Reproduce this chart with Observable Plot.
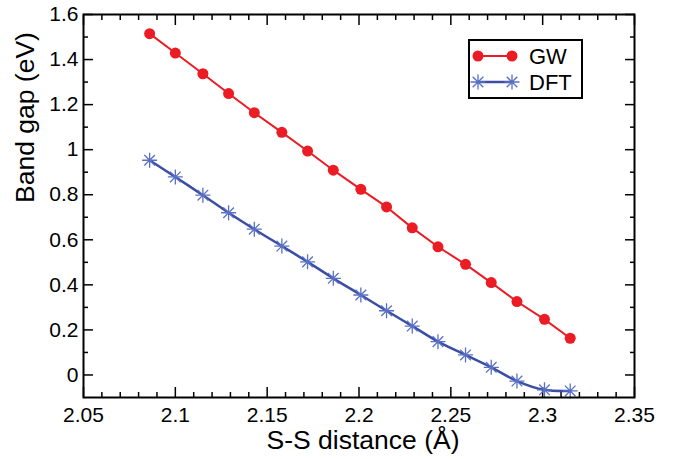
<!DOCTYPE html>
<html><head><meta charset="utf-8">
<script src="https://cdn.jsdelivr.net/npm/d3@7"></script>
<script src="https://cdn.jsdelivr.net/npm/@observablehq/plot@0.6"></script>
<style>
body{margin:0;background:#fff;}
#wrap{position:relative;width:675px;height:459px;font-family:"Liberation Sans",Arial,sans-serif;}
#legend{position:absolute;left:0;top:0;}
</style></head><body><div id="wrap"></div>
<script>
// S-S distance (Å)
const distance = [2.086, 2.1, 2.115, 2.129, 2.143, 2.158, 2.172, 2.186, 2.201, 2.215, 2.229, 2.243, 2.258, 2.272, 2.286, 2.301, 2.315];
// Band gap (eV)
const gwGap  = [1.515, 1.429, 1.337, 1.249, 1.164, 1.077, 0.994, 0.909, 0.824, 0.746, 0.653, 0.569, 0.491, 0.410, 0.326, 0.247, 0.163];
const dftGap = [0.953, 0.879, 0.798, 0.720, 0.647, 0.572, 0.502, 0.429, 0.355, 0.285, 0.217, 0.148, 0.089, 0.034, -0.027, -0.066, -0.071];
const seriesNames = ["GW", "DFT"];
const xTicks = [2.05, 2.1, 2.15, 2.2, 2.25, 2.3, 2.35];
const yTicks = [0, 0.2, 0.4, 0.6, 0.8, 1, 1.2, 1.4, 1.6];
const xTitle = "S-S distance (Å)";
const yTitle = "Band gap (eV)";

const red = "#ec1c24";
const blueLine = "#3a4ea6";
const blueMark = "#5a70c4";

const xMinor = d3.range(205, 236).map(v => v / 100).filter(v => !xTicks.includes(v));
const yMinor = d3.range(1, 16, 2).map(v => v / 10);

const gw = distance.map((d, i) => ({x: d, y: gwGap[i]}));
const dft = distance.map((d, i) => ({x: d, y: dftGap[i]}));

const star8 = {
  draw(ctx, size) {
    const r = Math.sqrt(size / Math.PI), d = r * Math.SQRT1_2;
    ctx.moveTo(-r, 0); ctx.lineTo(r, 0);
    ctx.moveTo(0, -r); ctx.lineTo(0, r);
    ctx.moveTo(-d, -d); ctx.lineTo(d, d);
    ctx.moveTo(-d, d); ctx.lineTo(d, -d);
  }
};

const none = () => "";
const tickOpts = {strokeWidth: 1.5, stroke: "black", tickFormat: none, label: null};

const chart = Plot.plot({
  width: 675, height: 459,
  marginLeft: 83, marginRight: 41, marginTop: 14, marginBottom: 62,
  style: {fontFamily: '"Liberation Sans", Arial, sans-serif', background: "white", color: "black"},
  x: {domain: [2.05, 2.35], label: null},
  y: {domain: [-0.1, 1.6], label: null},
  marks: [
    // inward ticks on all four sides
    Plot.axisX(xTicks, {anchor: "bottom", tickSize: -10, ...tickOpts}),
    Plot.axisX(xMinor, {anchor: "bottom", tickSize: -5, ...tickOpts}),
    Plot.axisX(xTicks, {anchor: "top", tickSize: -10, ...tickOpts}),
    Plot.axisX(xMinor, {anchor: "top", tickSize: -5, ...tickOpts}),
    Plot.axisY(yTicks, {anchor: "left", tickSize: -10, ...tickOpts}),
    Plot.axisY(yMinor, {anchor: "left", tickSize: -5, ...tickOpts}),
    Plot.axisY(yTicks, {anchor: "right", tickSize: -10, ...tickOpts}),
    Plot.axisY(yMinor, {anchor: "right", tickSize: -5, ...tickOpts}),
    // tick labels
    Plot.axisX(xTicks, {anchor: "bottom", tickSize: 0, tickPadding: 10, fontSize: 21, tickFormat: d => String(d), label: null}),
    Plot.axisY(yTicks, {anchor: "left", tickSize: 0, tickPadding: 5, fontSize: 21, tickFormat: d => String(d), label: null}),
    // titles
    Plot.text([xTitle], {frameAnchor: "bottom", dx: 4, dy: 43, lineAnchor: "middle", fontSize: 26.5, fill: "black"}),
    Plot.text([yTitle], {frameAnchor: "left", dx: -58, dy: -3, rotate: -90, lineAnchor: "middle", fontSize: 26.5, fill: "black"}),
    // data
    Plot.line(gw, {x: "x", y: "y", stroke: red, strokeWidth: 2}),
    Plot.dot(gw, {x: "x", y: "y", r: 5.5, fill: red, stroke: "none"}),
    Plot.line(dft, {x: "x", y: "y", stroke: blueLine, strokeWidth: 2.5, curve: "catmull-rom"}),
    Plot.dot(dft, {x: "x", y: "y", r: 7.5, symbol: star8, fill: "none", stroke: blueMark, strokeWidth: 1.3}),
    Plot.frame({stroke: "black", strokeWidth: 2})
  ]
});

const wrap = document.getElementById("wrap");
wrap.appendChild(chart);

// legend overlay
const leg = d3.select(wrap).append("svg").attr("id", "legend").attr("width", 675).attr("height", 459)
  .style("position", "absolute").style("left", "0px").style("top", "0px");
leg.append("rect").attr("x", 469).attr("y", 40).attr("width", 113).attr("height", 58)
  .attr("fill", "white").attr("stroke", "black").attr("stroke-width", 2);
const rows = [
  {name: seriesNames[0], y: 56, color: red},
  {name: seriesNames[1], y: 82, color: blueLine}
];
rows.forEach((row, i) => {
  leg.append("line").attr("x1", 478).attr("x2", 512).attr("y1", row.y).attr("y2", row.y)
    .attr("stroke", row.color).attr("stroke-width", i ? 2.5 : 2);
  [478, 512].forEach(cx => {
    if (i === 0) {
      leg.append("circle").attr("cx", cx).attr("cy", row.y).attr("r", 5.5).attr("fill", red);
    } else {
      leg.append("path").attr("d", d3.symbol(star8, Math.PI * 7.5 * 7.5)())
        .attr("transform", `translate(${cx},${row.y})`)
        .attr("fill", "none").attr("stroke", blueMark).attr("stroke-width", 1.3);
    }
  });
  leg.append("text").attr("x", 529).attr("y", row.y).attr("dy", "0.36em")
    .attr("font-size", 22).attr("font-family", '"Liberation Sans", Arial, sans-serif')
    .attr("fill", "black").text(row.name);
});
</script>
</body></html>
